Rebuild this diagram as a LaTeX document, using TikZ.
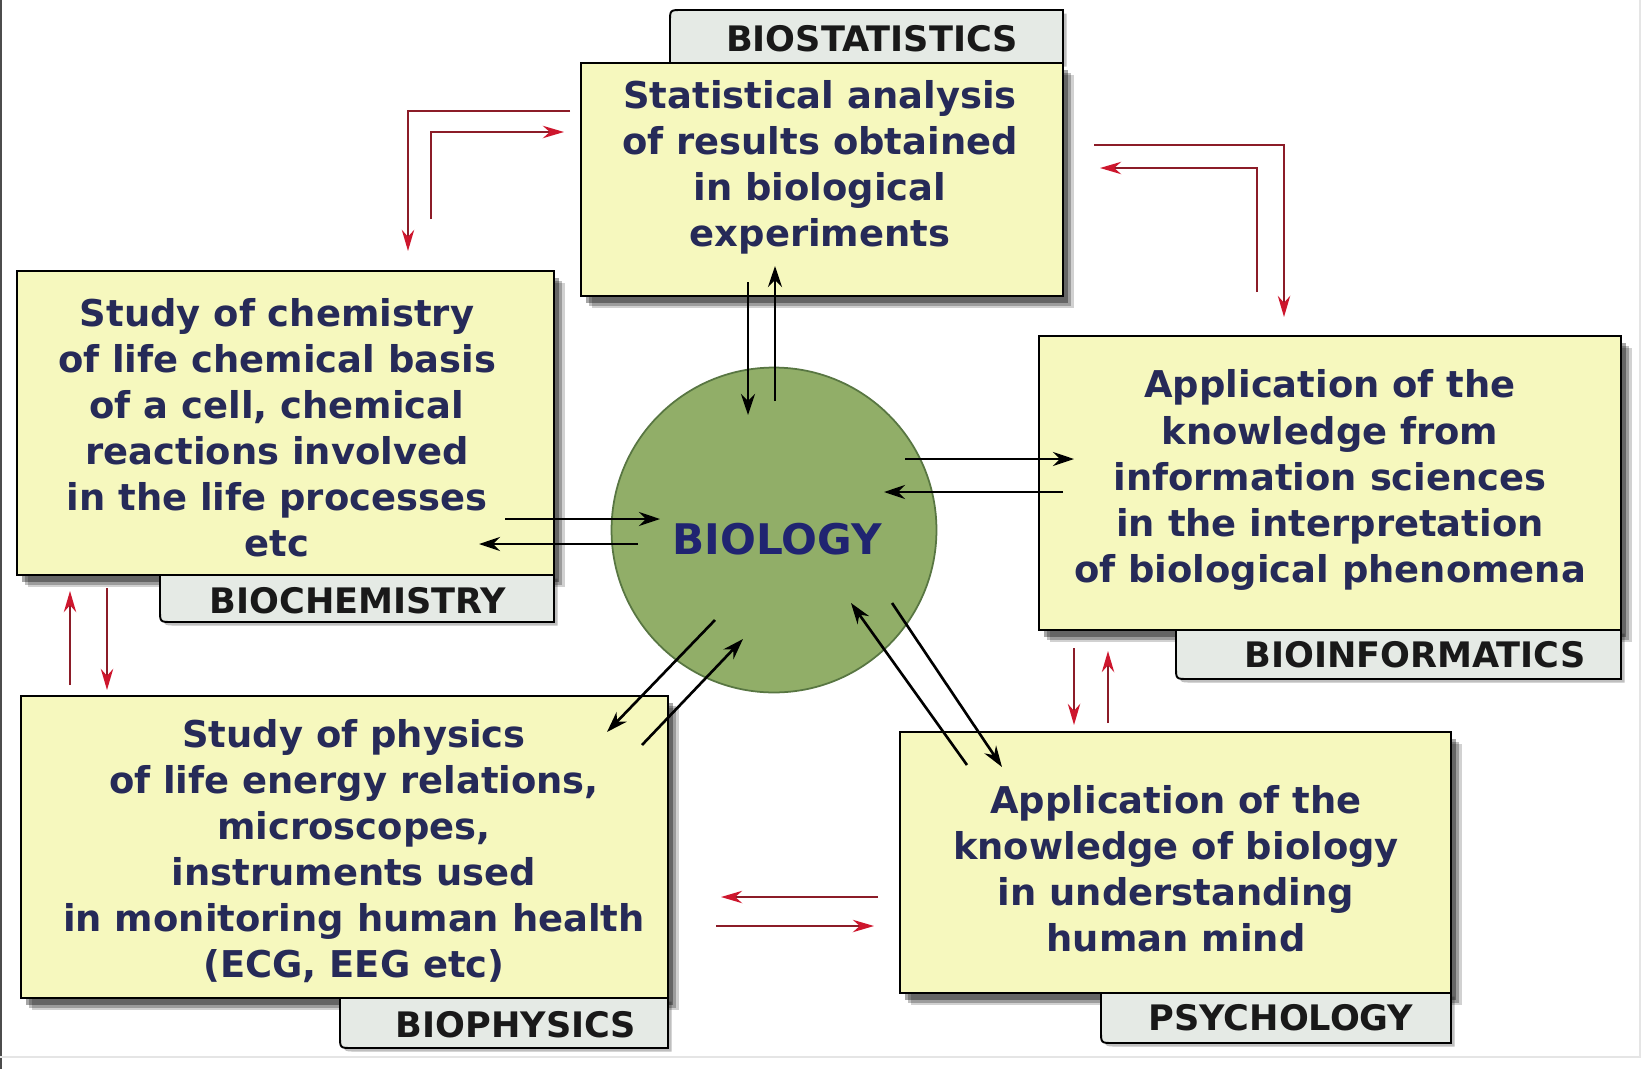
\documentclass[tikz,border=0pt]{standalone}
\usepackage{fontspec}
\setmainfont{DejaVu Sans}
\usetikzlibrary{arrows.meta,shadows,fit}

\definecolor{cardfill}{RGB}{246,248,190}
\definecolor{tabfill}{RGB}{229,234,229}
\definecolor{biogreen}{RGB}{145,174,104}
\definecolor{bioedge}{RGB}{88,118,66}
\definecolor{inkblue}{RGB}{38,42,88}
\definecolor{linered}{RGB}{140,28,40}
\definecolor{headred}{RGB}{205,22,45}

\tikzset{
    card/.style={draw=black, line width=1.3pt, fill=cardfill, inner sep=0pt,
        drop shadow={shadow xshift=6pt, shadow yshift=-7pt, opacity=.18, fill=black},
        drop shadow={shadow xshift=4.5pt, shadow yshift=-5.5pt, opacity=.25, fill=black},
        drop shadow={shadow xshift=3pt, shadow yshift=-4pt, opacity=.35, fill=black}},
    tab/.style={draw=black, line width=1.1pt, fill=tabfill,
        drop shadow={shadow xshift=2pt, shadow yshift=-2pt, opacity=.25, fill=black}},
    cardtext/.style={font=\bfseries\fontsize{21}{26.2}\selectfont, text=inkblue,
        align=center, inner sep=0pt},
    tabtext/.style={font=\bfseries\fontsize{20}{24}\selectfont, text=black!90, inner sep=0pt},
    blk/.style={line width=1.5pt, -{Stealth[length=12pt,width=8pt]}},
    redar/.style={draw=linered, line width=1.4pt, -{Stealth[length=12pt,width=7pt,color=headred]}}
}

\begin{document}
\begin{tikzpicture}[x=0.02cm,y=-0.02cm]
            \useasboundingbox (0,0) rectangle (1647,1069);
            \fill[white] (0,0) rectangle (1647,1069);
            \draw[black!70, line width=1.5pt] (1,0)--(1,1069);
            \draw[black!10, line width=1pt] (1640,0)--(1640,1057)--(0,1057);

            % tab above the statistics box
            \draw[tab] (1063,63)--(670,63)--(670,22) .. controls (670,10) .. (682,10)--(1063,10)--cycle;

            % boxes
            \node[card, fit={(581,63) (1063,296)}] (stat) {};
            \node[card, fit={(17,271) (554,575)}] (chem) {};
            \node[card, fit={(1039,336) (1621,630)}] (info) {};
            \node[card, fit={(21,696) (668,998)}] (phys) {};
            \node[card, fit={(900,732) (1451,993)}] (psych) {};

            % tabs below the boxes
            \draw[tab] (160,575)--(160,610) .. controls (160,622) .. (172,622)--(554,622)--(554,575)--cycle;
            \draw[tab] (1176,630)--(1176,667) .. controls (1176,679) .. (1188,679)--(1621,679)--(1621,630)--cycle;
            \draw[tab] (340,998)--(340,1036) .. controls (340,1048) .. (352,1048)--(668,1048)--(668,998)--cycle;
            \draw[tab] (1101,993)--(1101,1031) .. controls (1101,1043) .. (1113,1043)--(1451,1043)--(1451,993)--cycle;

            \node[circle, draw=bioedge, line width=1pt, fill=biogreen,
                minimum size=6.5cm, inner sep=0pt] (bio) at (774,530) {};

            % texts
            \node[tabtext] (statlabel) at (872,39) {BIOSTATISTICS};
            \node[tabtext] (chemlabel) at (358,601) {BIOCHEMISTRY};
            \node[tabtext] (infolabel) at (1415,655) {BIOINFORMATICS};
            \node[tabtext] (physlabel) at (516,1025) {BIOPHYSICS};
            \node[tabtext] (psychlabel) at (1281,1018) {PSYCHOLOGY};

            \node[cardtext] (stattext) at (820,167) {Statistical analysis\\of results obtained\\in biological\\experiments};
            \node[cardtext] (chemtext) at (277,428) {Study of chemistry\\of life chemical basis\\of a cell, chemical\\reactions involved\\in the life processes\\etc};
            \node[cardtext] (infotext) at (1330,480) {Application of the\\knowledge from\\information sciences\\in the interpretation\\of biological phenomena};
            \node[cardtext] (phystext) at (354,851) {Study of physics\\of life energy relations,\\microscopes,\\instruments used\\in monitoring human health\\(ECG, EEG etc)};
            \node[cardtext] (psychtext) at (1176,869) {Application of the\\knowledge of biology\\in understanding\\human mind};
            \node[cardtext, font=\bfseries\fontsize{24}{28}\selectfont, text=inkblue!85!blue] (biolabel) at (777,539) {BIOLOGY};

            % black links with the circle
            \coordinate (s1) at (748,282);  \coordinate (s2) at (748,415);
            \coordinate (s3) at (775,401);  \coordinate (s4) at (775,266);
            \coordinate (c1) at (505,519);  \coordinate (c2) at (660,519);
            \coordinate (c3) at (638,544);  \coordinate (c4) at (479,544);
            \coordinate (i1) at (905,459);  \coordinate (i2) at (1074,459);
            \coordinate (i3) at (1063,492); \coordinate (i4) at (884,492);
            \coordinate (p1) at (715,620);  \coordinate (p2) at (607,732);
            \coordinate (p3) at (642,745);  \coordinate (p4) at (743,639);
            \coordinate (m1) at (967,765);  \coordinate (m2) at (851,603);
            \coordinate (m3) at (892,603);  \coordinate (m4) at (1002,767);

            \foreach \a/\b in {s1/s2,s3/s4,c1/c2,c3/c4,i1/i2,i3/i4,p1/p2,p3/p4,m1/m2,m3/m4}{
                \draw[blk] (\a)--(\b);
            }

            % red links between the boxes
            \coordinate (t1) at (570,111);  \coordinate (t2) at (408,251);
            \coordinate (t3) at (431,219);  \coordinate (t4) at (564,132);
            \coordinate (u1) at (1094,145); \coordinate (u2) at (1284,317);
            \coordinate (u3) at (1257,292); \coordinate (u4) at (1100,168);

            \draw[redar] (t1) -| (t2);
            \draw[redar] (t3) |- (t4);
            \draw[redar] (u1) -| (u2);
            \draw[redar] (u3) |- (u4);

            \coordinate (v1) at (70,685);   \coordinate (v2) at (70,591);
            \coordinate (v3) at (107,588);  \coordinate (v4) at (107,690);
            \coordinate (w1) at (1074,648); \coordinate (w2) at (1074,725);
            \coordinate (w3) at (1108,723); \coordinate (w4) at (1108,651);
            \coordinate (h1) at (878,897);  \coordinate (h2) at (721,897);
            \coordinate (h3) at (716,926);  \coordinate (h4) at (874,926);

            \foreach \a/\b in {v1/v2,v3/v4,w1/w2,w3/w4,h1/h2,h3/h4}{
                \draw[redar] (\a)--(\b);
            }
\end{tikzpicture}
\end{document}
